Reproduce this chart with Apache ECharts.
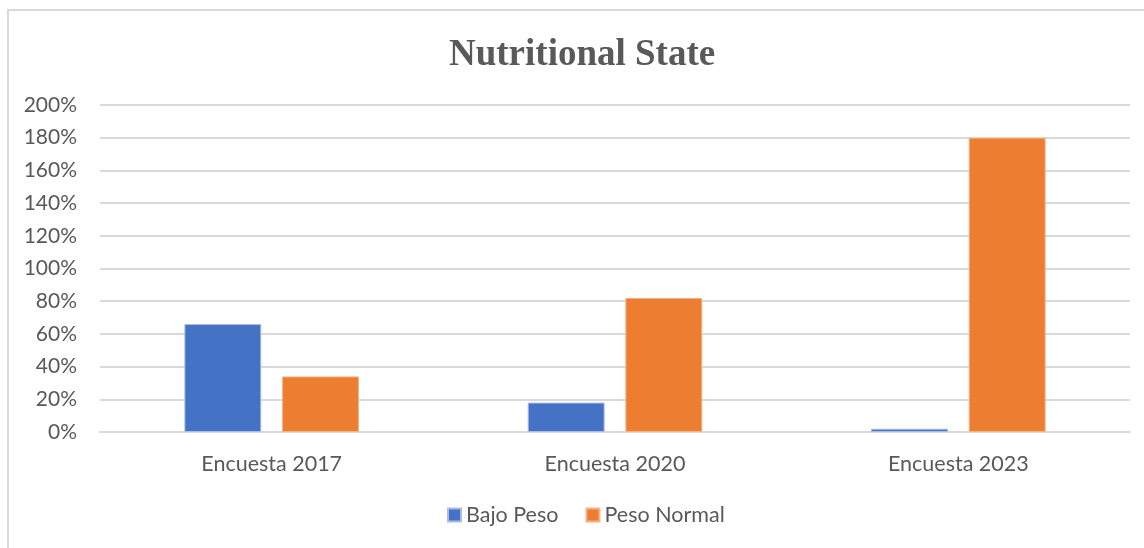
<!DOCTYPE html>
<html>
<head>
<meta charset="utf-8">
<script src="https://cdn.jsdelivr.net/npm/echarts@6/dist/echarts.min.js"></script>
<style>
  html, body { margin: 0; padding: 0; background: #ffffff; overflow: hidden; }
  #frame {
    position: absolute; left: 7px; top: 9px; width: 1160px; height: 560px;
    border: 2px solid #d9d9d9; box-sizing: border-box;
  }
  #chart { position: absolute; left: 0; top: 0; width: 1144px; height: 548px; }
</style>
</head>
<body>
<div id="frame"></div>
<div id="chart"></div>
<script>
// Survey rounds on the x axis
const categories = ['Encuesta 2017', 'Encuesta 2020', 'Encuesta 2023'];
// Share of each nutritional group, in percent
const bajoPeso = [66, 18, 2];
const pesoNormal = [34, 82, 180];
// Value axis range and step, in percent
const yMin = 0;
const yMax = 200;
const yStep = 20;

const textColor = '#595959';
const uiFont = 'Lato, "Open Sans", sans-serif';

const chart = echarts.init(document.getElementById('chart'), null, { renderer: 'canvas' });
chart.setOption({
  animation: false,
  backgroundColor: 'transparent',
  title: {
    text: 'Nutritional State',
    left: 444,
    top: 32,
    textStyle: {
      fontFamily: '"Liberation Serif", "DejaVu Serif", serif',
      fontWeight: 'bold',
      fontSize: 37,
      color: textColor
    }
  },
  grid: { left: 100, right: 14, top: 105, bottom: 116, containLabel: false },
  legend: {
    bottom: 17,
    left: 442,
    itemWidth: 13,
    itemHeight: 13,
    itemGap: 27,
    icon: 'rect',
    textStyle: { fontFamily: uiFont, fontSize: 21.5, color: textColor },
    data: ['Bajo Peso', 'Peso Normal']
  },
  xAxis: {
    type: 'category',
    data: categories,
    axisLine: { show: true, lineStyle: { color: '#d9d9d9', width: 2 } },
    axisTick: { show: false },
    axisLabel: { fontFamily: uiFont, fontSize: 21.5, color: textColor, margin: 21 }
  },
  yAxis: {
    type: 'value',
    min: yMin,
    max: yMax,
    interval: yStep,
    axisLine: { show: false },
    axisTick: { show: false },
    splitLine: { lineStyle: { color: '#d9d9d9', width: 2 } },
    axisLabel: {
      fontFamily: uiFont, fontSize: 21, color: textColor, margin: 23,
      formatter: v => v + '%'
    }
  },
  series: [
    {
      name: 'Bajo Peso',
      type: 'bar',
      data: bajoPeso,
      barWidth: '22.4%',
      barGap: '27%',
      itemStyle: { color: '#4472c4', borderColor: '#a9bde4', borderWidth: 1 }
    },
    {
      name: 'Peso Normal',
      type: 'bar',
      data: pesoNormal,
      barWidth: '22.4%',
      itemStyle: { color: '#ed7d31', borderColor: '#f4b287', borderWidth: 1 }
    }
  ]
});
</script>
</body>
</html>
